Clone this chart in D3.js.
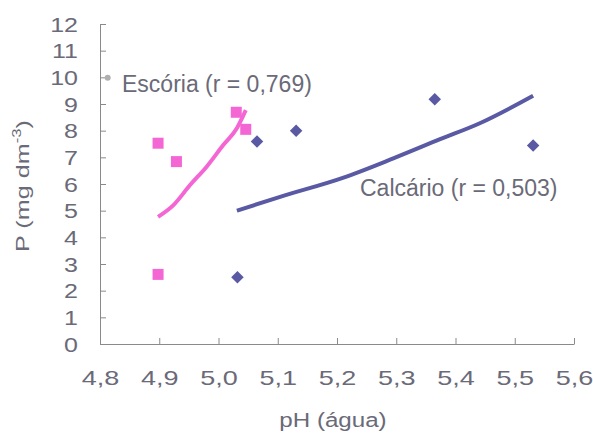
<!DOCTYPE html>
<html>
<head>
<meta charset="utf-8">
<script src="https://cdn.jsdelivr.net/npm/d3@7"></script>
<style>
  body { margin: 0; background: #fff; }
  svg { display: block; font-family: "Liberation Sans", Arial, sans-serif; }
</style>
</head>
<body>
<svg></svg>
<script>
// data
var escoriaPH = [4.898, 4.929, 4.898, 5.030, 5.046];
var escoriaP = [7.53, 6.84, 2.61, 8.69, 8.05];
var calcarioPH = [5.032, 5.065, 5.131, 5.365, 5.531];
var calcarioP = [2.50, 7.59, 8.00, 9.18, 7.44];

// trend lines
var escoriaTrendPH = [4.898, 4.924, 4.952, 4.980, 5.008, 5.031, 5.046];
var escoriaTrendP = [4.77, 5.21, 5.96, 6.65, 7.46, 8.09, 8.77];
var calcarioTrendPH = [5.031, 5.104, 5.211, 5.295, 5.374, 5.441, 5.531];
var calcarioTrendP = [5.00, 5.52, 6.24, 6.96, 7.68, 8.28, 9.31];

var strayPoint = [4.813, 9.98];

var xTicks = [4.8, 4.9, 5.0, 5.1, 5.2, 5.3, 5.4, 5.5, 5.6];
var yTicks = [0, 1, 2, 3, 4, 5, 6, 7, 8, 9, 10, 11, 12];

var width = 593;
var height = 434;

var textColor = "#6a6a78";
var axisColor = "#8a8a8a";
var pink = "#f466d4";
var blue = "#5a5aa4";

var svg = d3.select("svg").attr("width", width).attr("height", height);

var xScale = d3.scaleLinear().domain([4.8, 5.6]).range([100, 574]);
var yScale = d3.scaleLinear().domain([0, 12]).range([344, 24]);

/* axes */
var xAxis = d3.axisBottom(xScale)
  .tickValues(xTicks)
  .tickSizeInner(-6)
  .tickSizeOuter(0)
  .tickFormat((d) => d3.format(".1f")(d).replace(".", ","));

var gx = svg.append("g")
  .attr("transform", "translate(0," + yScale(0) + ")")
  .call(xAxis);
gx.selectAll("text")
  .attr("y", 0)
  .attr("dy", 0)
  .attr("transform", "translate(0,41) scale(1.35,1)")
  .style("font-size", "20px")
  .attr("fill", textColor);

var yAxis = d3.axisLeft(yScale)
  .tickValues(yTicks)
  .tickSizeInner(-6)
  .tickSizeOuter(0)
  .tickFormat(d3.format("d"));

var gy = svg.append("g")
  .attr("transform", "translate(" + xScale(4.8) + ",0)")
  .call(yAxis);
gy.selectAll("text")
  .attr("x", 0)
  .attr("dy", 0)
  .attr("transform", "translate(-22,7) scale(1.25,1)")
  .style("font-size", "20px")
  .attr("fill", textColor);

svg.selectAll(".domain, .tick line").attr("stroke", axisColor);

/* axis titles */
svg.append("text")
  .attr("transform", "translate(333,427) scale(1.15,1)")
  .attr("text-anchor", "middle")
  .style("font-size", "21px")
  .attr("fill", textColor)
  .text("pH (água)");

var yTitle = svg.append("text")
  .attr("transform", "translate(29,186) rotate(-90) scale(1.4,1)")
  .attr("text-anchor", "middle")
  .style("font-size", "18px")
  .attr("fill", textColor);
yTitle.append("tspan").text("P (mg dm");
yTitle.append("tspan").attr("dy", -8).style("font-size", "12px").text("-3");
yTitle.append("tspan").attr("dy", 8).text(")");

/* trend lines */
var line = d3.line()
  .x((d) => xScale(d[0]))
  .y((d) => yScale(d[1]))
  .curve(d3.curveMonotoneX);

svg.append("path")
  .datum(escoriaTrendPH.map((v, i) => [v, escoriaTrendP[i]]))
  .attr("d", line)
  .attr("fill", "none")
  .attr("stroke", pink)
  .attr("stroke-width", 4);

svg.append("path")
  .datum(calcarioTrendPH.map((v, i) => [v, calcarioTrendP[i]]))
  .attr("d", line)
  .attr("fill", "none")
  .attr("stroke", blue)
  .attr("stroke-width", 4);

/* points */
svg.selectAll(".sq")
  .data(escoriaPH.map((v, i) => [v, escoriaP[i]]))
  .enter()
  .append("rect")
  .attr("class", "sq")
  .attr("x", (d) => xScale(d[0]) - 5.5)
  .attr("y", (d) => yScale(d[1]) - 5.5)
  .attr("width", 11)
  .attr("height", 11)
  .attr("fill", pink);

svg.selectAll(".dia")
  .data(calcarioPH.map((v, i) => [v, calcarioP[i]]))
  .enter()
  .append("path")
  .attr("class", "dia")
  .attr("d", d3.symbol(d3.symbolDiamond2, 100))
  .attr("transform", (d) => "translate(" + xScale(d[0]) + "," + yScale(d[1]) + ")")
  .attr("fill", blue);

svg.append("circle")
  .attr("cx", xScale(strayPoint[0]))
  .attr("cy", yScale(strayPoint[1]))
  .attr("r", 3)
  .attr("fill", "#b0b0b0");

/* labels */
svg.append("text")
  .attr("x", 122)
  .attr("y", 92)
  .style("font-size", "23px")
  .attr("fill", textColor)
  .text("Escória (r = 0,769)");

svg.append("text")
  .attr("x", 360)
  .attr("y", 196)
  .style("font-size", "23px")
  .attr("fill", textColor)
  .text("Calcário (r = 0,503)");
</script>
</body>
</html>
